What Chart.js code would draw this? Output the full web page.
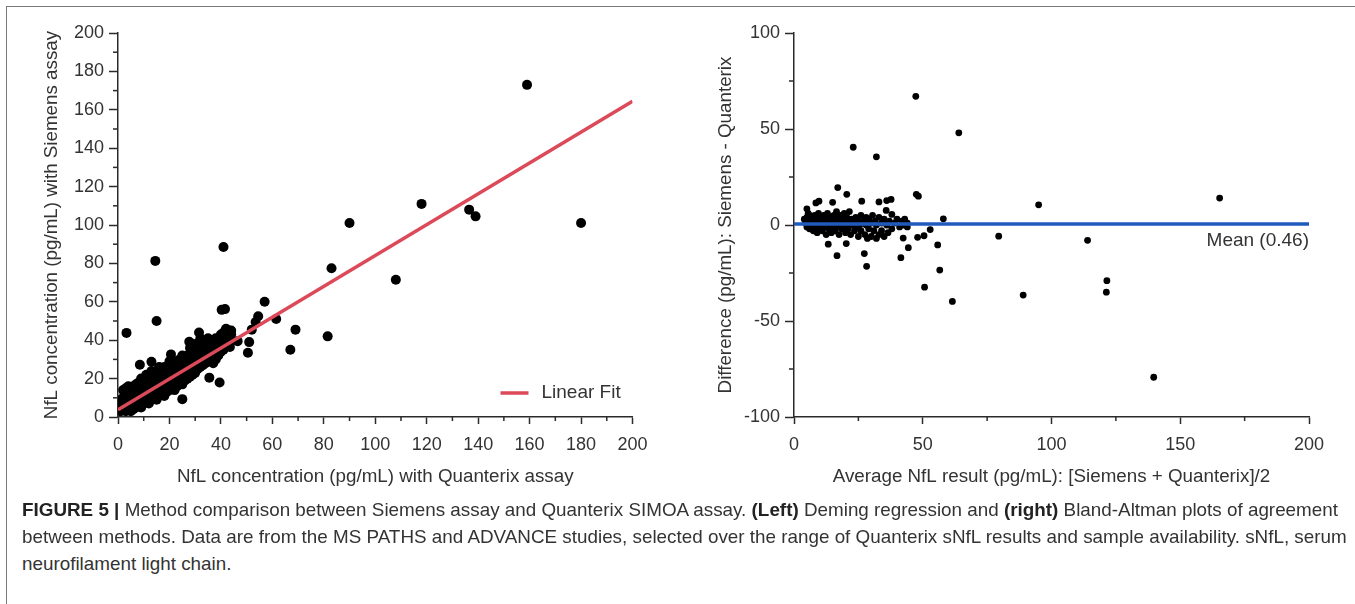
<!DOCTYPE html>
<html><head><meta charset="utf-8">
<script src="https://cdn.jsdelivr.net/npm/chart.js@4.4.0/dist/chart.umd.min.js"></script>
<style>
html,body{margin:0;padding:0;background:#fff;width:1355px;height:604px;overflow:hidden;}
#frame{position:absolute;left:6px;top:6px;width:1349px;height:598px;border-left:1px solid #7a7a7a;border-top:1px solid #7a7a7a;box-sizing:border-box;}
#w1{position:absolute;left:0;top:0;width:680px;height:500px;}
#w2{position:absolute;left:680px;top:0;width:675px;height:500px;}
.cap{position:absolute;left:22px;white-space:nowrap;font-family:'Liberation Sans Narrow','Liberation Sans',Arial,sans-serif;font-size:19px;line-height:22px;color:#333;transform-origin:0 50%;}
.cap b{color:#222;}
</style></head>
<body>
<div id="frame"></div>
<div id="w1"><canvas id="c1"></canvas></div>
<div id="w2"><canvas id="c2"></canvas></div>
<div class="cap" id="l1" style="top:499px"><b>FIGURE 5 |</b> Method comparison between Siemens assay and Quanterix SIMOA assay. <b>(Left)</b> Deming regression and <b>(right)</b> Bland-Altman plots of agreement</div>
<div class="cap" id="l2" style="top:526px">between methods. Data are from the MS PATHS and ADVANCE studies, selected over the range of Quanterix sNfL results and sample availability. sNfL, serum</div>
<div class="cap" id="l3" style="top:553px">neurofilament light chain.</div>
<script>
// ---------- data ----------
const leftXTicks = [0,20,40,60,80,100,120,140,160,180,200];
const leftYTicks = [0,20,40,60,80,100,120,140,160,180,200];
const leftXMinorTicks = [10,30,50,70,90,110,130,150,170,190];
const leftYMinorTicks = [10,30,50,70,90,110,130,150,170,190];
const rightXTicks = [0,50,100,150,200];
const rightYTicks = [-100,-50,0,50,100];
const rightXMinorTicks = [25,75,125,175];
const rightYMinorTicks = [-75,-25,25,75];

// Left: [Quanterix, Siemens] pg/mL
const leftOutlierPoints = [[159,173],[180,101],[118,111],[136.5,108],[139,104.5],[90,101],[108,71.5],[83,77.5],[81.5,42],[67,35],[69,45.5],[61.5,51],[57,60],[54.5,52.5],[53.5,49.5],[52,45.5],[51,39],[50.5,33.5],[46.5,39.5],[43.5,36.5],[41,88.5],[40.3,55.8],[41.6,56.2],[14.5,81.3],[15,50],[3.3,43.8],[39.5,18],[35.5,20.5],[25,9.3],[8.5,27.2],[13,28.8],[20.6,32.6],[27.7,39.2],[31.5,44],[42,45.5],[43,44]];
const leftClusterPoints = [
[1,3],[1,6],[1,9],[2,4],[2,7],[2,10],[2,14],[3,3],[3,6],[3,9],[3,12],[3,15],[4,4],[4,7],[4,10],[4,13],[4,16],
[5,3],[5,5],[5,8],[5,11],[5,14],[6,4],[6,7],[6,10],[6,13],[6,16],[7,5],[7,8],[7,11],[7,14],[7,17],
[8,6],[8,9],[8,12],[8,15],[8,18],[9,5],[9,8],[9,11],[9,14],[9,17],[9,20],[10,7],[10,10],[10,13],[10,16],[10,19],
[11,8],[11,11],[11,14],[11,17],[11,20],[11,22],[12,7],[12,10],[12,13],[12,16],[12,19],[12,22],
[13,9],[13,12],[13,15],[13,18],[13,21],[13,24],[14,10],[14,13],[14,16],[14,19],[14,22],
[15,9],[15,12],[15,15],[15,18],[15,21],[15,24],[16,11],[16,14],[16,17],[16,20],[16,23],[16,26],
[17,12],[17,15],[17,18],[17,21],[17,24],[18,11],[18,14],[18,17],[18,20],[18,23],[18,26],
[19,13],[19,16],[19,19],[19,22],[19,25],[20,14],[20,17],[20,20],[20,23],[20,26],[20,29],
[21,15],[21,18],[21,21],[21,24],[21,27],[22,14],[22,17],[22,20],[22,23],[22,26],[22,29],
[23,16],[23,19],[23,22],[23,25],[23,28],[24,18],[24,21],[24,24],[24,27],[24,30],
[25,17],[25,20],[25,23],[25,26],[25,29],[25,32],[26,19],[26,22],[26,25],[26,28],[26,31],
[27,20],[27,23],[27,26],[27,29],[27,32],[28,21],[28,24],[28,27],[28,30],[28,33],[28,36],
[29,22],[29,25],[29,28],[29,31],[29,34],[30,23],[30,26],[30,29],[30,32],[30,35],[30,38],
[31,25],[31,28],[31,31],[31,34],[31,37],[32,26],[32,29],[32,32],[32,35],[32,38],[32,41],
[33,27],[33,30],[33,33],[33,36],[33,39],[34,28],[34,31],[34,34],[34,37],[34,40],
[35,29],[35,32],[35,35],[35,38],[35,41],[36,30],[36,33],[36,36],[36,39],[37,28],[37,31],[37,34],[37,37],[37,40],
[38,30],[38,33],[38,36],[38,41],[39,32],[39,35],[39,38],[39,41],[40,34],[40,37],[40,40],[40,43],
[41,35],[41,38],[41,41],[41,44],[42,37],[42,40],[42,43],[42,46],[43,38],[43,41],[43,44],[43,45],[44,40],[44,43],[44,45]
];
const fitLabel = 'Linear Fit';
const fitLine = [[0,3.8],[200,164.5]];

// Right: [average, difference] pg/mL
const rightOutlierPoints = [[47.3,67],[64,48],[23,40.5],[32,35.5],[165.3,14],[95,10.5],[47.5,16],[48.3,15],[58,3.2],[79.5,-5.8],[114,-8],[121.5,-29],[121.3,-35],[89,-36.5],[139.7,-79.3],[61.5,-39.8],[50.7,-32.4],[56.6,-23.5],[55.8,-10.4],[52.9,-2.4],[50.5,-5.6],[48,-6.4],[44.4,-11.8],[41.5,-17],[42.4,-6.8],[17,19.5],[20.5,16],[26.3,12.4],[33,12],[36,12.7],[37.7,13.3],[8.5,11.5],[9.7,12.4],[5,8.4],[15,11.8],[16.7,-16],[20.3,-9.7],[13.3,-10],[27.3,-14.9],[28.2,-21.5],[35.8,7.6],[38,5.5]];
const rightClusterPoints = [
[4,3],[4.5,1],[5,-1],[5,4],[5.5,6],[6,2],[6,-2],[6,5],
[7,0],[7,3],[7.5,-3],[8,1],[8,5],[8.5,-1],[9,3],[9,-4],[9.5,6],[10,0],[10,2],[10,-2],[10.5,4],
[11,-3],[11,1],[11.5,5],[12,-1],[12,3],[12.5,-5],[13,2],[13,6],[13.5,-2],[14,0],[14,4],[14.5,-4],
[15,2],[15,-1],[15.5,5],[16,-3],[16,1],[16.5,7],[17,-1],[17,3],[17.5,-5],[18,1],[18,5],[18.5,-2],
[19,3],[19,-1],[19.5,6],[20,-4],[20,1],[20.5,4],[21,-2],[21,2],[21.5,7],[22,0],[22,-5],[22.5,3],
[23,1],[23.5,-3],[24,4],[24,-1],[25,2],[25,-6],[25.5,0],[26,5],[26,-3],
[27,2],[27.5,-5],[28,0],[28,4],[28.5,-7],[29,-2],[29,3],[30,1],[30,-6],[30.5,5],
[31,-3],[31.5,2],[32,-7],[32,0],[33,4],[33,-5],[34,1],[34,-3],[35,-6],[35,3],
[36,0],[36.5,-4],[37,2],[38,-2],[39,1],[40,3],[41,-1],[42,2],[42.5,0],[43,3],[44,1],[44,-1]
];
const meanValue = 0.46;
const meanLine = [[0,meanValue],[200,meanValue]];

// ---------- styles ----------
const axisColor = '#2a2a2a';
const textColor = '#333';
const fitColor = '#dc4a5a';
const meanColor = '#1f5bbf';
Chart.defaults.font.family = "'Liberation Sans', Arial, sans-serif";
Chart.defaults.color = textColor;

const toXY = arr => arr.map(([x,y]) => ({x, y}));

const minorTicks = {
  id: 'minorTicks',
  afterDraw(chart, args, opts) {
    const ctx = chart.ctx, xs = chart.scales.x, ys = chart.scales.y;
    ctx.save(); ctx.strokeStyle = axisColor; ctx.lineWidth = 1.5;
    opts.x.forEach(v => { const p = xs.getPixelForValue(v); ctx.beginPath(); ctx.moveTo(p, xs.top); ctx.lineTo(p, xs.top + 4); ctx.stroke(); });
    opts.y.forEach(v => { const p = ys.getPixelForValue(v); ctx.beginPath(); ctx.moveTo(ys.right, p); ctx.lineTo(ys.right - 5, p); ctx.stroke(); });
    ctx.restore();
  }
};
const fitLegend = {
  id: 'fitLegend',
  afterDraw(chart, args, opts) {
    if (!opts.show) return;
    const ctx = chart.ctx, a = chart.chartArea, ds = chart.data.datasets[0];
    const y = a.bottom - 24;
    ctx.save();
    ctx.strokeStyle = ds.borderColor; ctx.lineWidth = 3.5;
    ctx.beginPath(); ctx.moveTo(a.right - 132, y); ctx.lineTo(a.right - 104, y); ctx.stroke();
    ctx.fillStyle = textColor; ctx.font = "19px 'Liberation Sans', Arial, sans-serif";
    ctx.textBaseline = 'middle'; ctx.textAlign = 'left';
    ctx.fillText(ds.label, a.right - 91, y);
    ctx.restore();
  }
};
const meanLabel = {
  id: 'meanLabel',
  afterDraw(chart, args, opts) {
    if (!opts.show) return;
    const ctx = chart.ctx, a = chart.chartArea, ys = chart.scales.y;
    const y = ys.getPixelForValue(meanValue) + 17;
    ctx.save();
    ctx.fillStyle = textColor; ctx.font = "19px 'Liberation Sans', Arial, sans-serif";
    ctx.textBaseline = 'middle'; ctx.textAlign = 'right';
    ctx.fillText('Mean (' + meanValue + ')', a.right, y);
    ctx.restore();
  }
};

function axes(xTicks, yTicks, xTitle, yTitle, yWidth, yTitlePad) {
  const common = {
    type: 'linear',
    grid: { drawOnChartArea: false, drawTicks: true, color: axisColor, tickColor: axisColor, tickWidth: 1.5 },
    border: { color: axisColor, width: 1.5 },
  };
  return {
    x: Object.assign({}, common, {
      min: xTicks[0], max: xTicks[xTicks.length - 1],
      grid: Object.assign({}, common.grid, { tickLength: 7 }),
      afterBuildTicks: s => { s.ticks = xTicks.map(v => ({ value: v })); },
      afterFit: s => { s.height = 83; },
      ticks: { font: { size: 18 }, color: textColor, padding: 10, maxRotation: 0, autoSkip: false },
      title: { display: true, text: xTitle, color: textColor, font: { size: 18.8 }, padding: { top: 0, bottom: 11.7 } }
    }),
    y: Object.assign({}, common, {
      min: yTicks[0], max: yTicks[yTicks.length - 1],
      grid: Object.assign({}, common.grid, { tickLength: 9 }),
      afterBuildTicks: s => { s.ticks = yTicks.map(v => ({ value: v })); },
      afterFit: s => { s.width = yWidth; },
      ticks: { font: { size: 18 }, color: textColor, padding: 5, autoSkip: false },
      title: { display: true, text: yTitle, color: textColor, font: { size: 18.8 }, padding: { top: yTitlePad, bottom: 0 } }
    })
  };
}

new Chart(document.getElementById('c1'), {
  type: 'scatter',
  data: { datasets: [
    { type: 'line', label: fitLabel, data: toXY(fitLine), borderColor: fitColor, borderWidth: 3.5, pointRadius: 0, fill: false, order: 0 },
    { label: 'Samples', data: toXY(leftClusterPoints.concat(leftOutlierPoints)), backgroundColor: '#000', borderWidth: 0, pointRadius: 5, pointHoverRadius: 5, order: 1 }
  ]},
  options: {
    responsive: true, maintainAspectRatio: false, animation: false, events: [],
    layout: { padding: { top: 33, right: 47.5, left: 0, bottom: 0 } },
    plugins: { legend: { display: false }, tooltip: { enabled: false },
      minorTicks: { x: leftXMinorTicks, y: leftYMinorTicks }, fitLegend: { show: true }, meanLabel: { show: false } },
    scales: axes(leftXTicks, leftYTicks, 'NfL concentration (pg/mL) with Quanterix assay', 'NfL concentration (pg/mL) with Siemens assay', 118, 40.7)
  },
  plugins: [minorTicks, fitLegend, meanLabel]
});

new Chart(document.getElementById('c2'), {
  type: 'scatter',
  data: { datasets: [
    { type: 'line', label: 'Mean', data: toXY(meanLine), borderColor: meanColor, borderWidth: 3.5, pointRadius: 0, fill: false, order: 0 },
    { label: 'Samples', data: toXY(rightClusterPoints.concat(rightOutlierPoints)), backgroundColor: '#000', borderWidth: 0, pointRadius: 3.4, pointHoverRadius: 3.4, order: 1 }
  ]},
  options: {
    responsive: true, maintainAspectRatio: false, animation: false, events: [],
    layout: { padding: { top: 33, right: 46, left: 0, bottom: 0 } },
    plugins: { legend: { display: false }, tooltip: { enabled: false },
      minorTicks: { x: rightXMinorTicks, y: rightYMinorTicks }, fitLegend: { show: false }, meanLabel: { show: true } },
    scales: axes(rightXTicks, rightYTicks, 'Average NfL result (pg/mL): [Siemens + Quanterix]/2', 'Difference (pg/mL): Siemens - Quanterix', 114, 34.7)
  },
  plugins: [minorTicks, fitLegend, meanLabel]
});

// fit caption lines to the reference width
function fitCaption() {
  const l1 = document.getElementById('l1');
  l1.style.transform = 'none';
  const w = l1.getBoundingClientRect().width;
  const s = 1316 / w;
  ['l1','l2','l3'].forEach(id => { document.getElementById(id).style.transform = 'scaleX(' + s + ')'; });
}
fitCaption();
if (document.fonts && document.fonts.ready) document.fonts.ready.then(fitCaption);
</script>
</body></html>
